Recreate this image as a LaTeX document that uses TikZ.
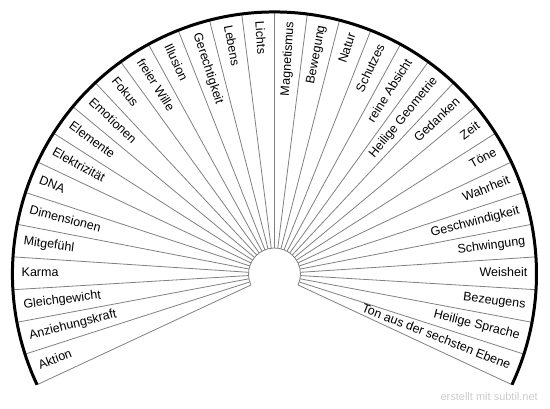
\documentclass[tikz,border=0pt]{standalone}
\usepackage{fontspec}
\setmainfont{Liberation Sans}
\begin{document}
\begin{tikzpicture}[x=1pt, y=1pt,
  spoke/.style={gray, line width=0.8pt},
  rim/.style={black, line width=3pt},
  sectorlabel/.style={inner sep=0pt, font=\fontsize{12.5}{14}\selectfont, text height=1.5ex, text depth=0.25ex}]
  \useasboundingbox (-274.5,-134) rectangle (275.5,274);
  \foreach \k in {0,...,32}
    \draw[spoke] ({205-7.1875*\k}:26) -- ({205-7.1875*\k}:262);
  \draw[spoke] (205:26) arc[start angle=205, end angle=-25, radius=26];
  \draw[rim] (205:262) arc[start angle=205, end angle=-25, radius=262];
  \foreach \lbl [count=\k from 0] in {Aktion, Anziehungskraft, Gleichgewicht, Karma, Mitgefühl, Dimensionen, DNA, Elektrizität, Elemente, Emotionen, Fokus, freier Wille, Illusion, Gerechtigkeit, Lebens, Lichts, Magnetismus, Bewegung, Natur, Schutzes, reine Absicht, Heilige Geometrie, Gedanken, Zeit, Töne, Wahrheit, Geschwindigkeit, Schwingung, Weisheit, Bezeugens, Heilige Sprache, Ton aus der sechsten Ebene}{
    \pgfmathsetmacro\mid{205-7.1875*(\k+0.5)}
    \ifnum\k<16
      \node[sectorlabel, anchor=west, rotate=\mid+180] (lbl\k) at (\mid:253) {\lbl};
    \else
      \node[sectorlabel, anchor=east, rotate=\mid] (lbl\k) at (\mid:253) {\lbl};
    \fi
  }
  \node[anchor=east, gray!40, inner sep=0pt, font=\fontsize{11}{13}\selectfont] (credit) at (263.5,-123) {erstellt mit subtil.net};
\end{tikzpicture}
\end{document}
